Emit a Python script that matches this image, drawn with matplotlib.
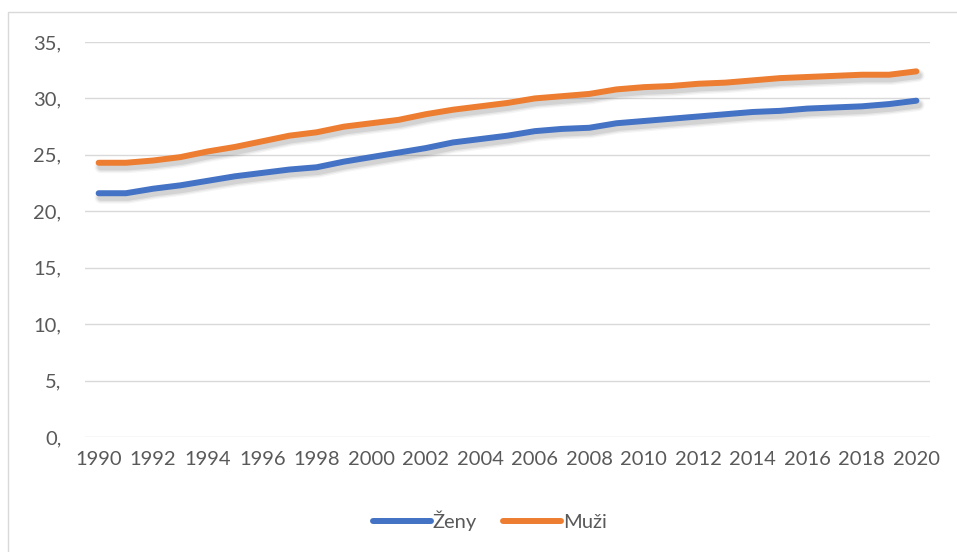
import matplotlib
matplotlib.use("Agg")
import matplotlib.pyplot as plt
import matplotlib.patheffects as pe
from matplotlib.patches import Rectangle

years = list(range(1990, 2021))
zeny = [21.6, 21.6, 22.0, 22.3, 22.7, 23.1, 23.4, 23.7, 23.9, 24.4,
        24.8, 25.2, 25.6, 26.1, 26.4, 26.7, 27.1, 27.3, 27.4, 27.8,
        28.0, 28.2, 28.4, 28.6, 28.8, 28.9, 29.1, 29.2, 29.3, 29.5, 29.8]
muzi = [24.3, 24.3, 24.5, 24.8, 25.3, 25.7, 26.2, 26.7, 27.0, 27.5,
        27.8, 28.1, 28.6, 29.0, 29.3, 29.6, 30.0, 30.2, 30.4, 30.8,
        31.0, 31.1, 31.3, 31.4, 31.6, 31.8, 31.9, 32.0, 32.1, 32.1, 32.4]
y_ticks = [0, 5, 10, 15, 20, 25, 30, 35]
x_ticks = list(range(1990, 2021, 2))

plt.rcParams['font.family'] = ['Lato', 'DejaVu Sans']
txt = '#595959'
grid = '#d9d9d9'

fig = plt.figure(figsize=(9.57, 5.52), dpi=100)
# chart frame: only left and top edges are inside the picture
fig.patches.append(Rectangle((8 / 957, -10 / 552), 960 / 957, 550 / 552,
                             transform=fig.transFigure, fill=False,
                             edgecolor='#d9d9d9', linewidth=1))
ax = fig.add_axes([85 / 957, 115 / 552, 845 / 957, 395 / 552])

# soft drop shadow like Excel
shadow = [pe.Stroke(offset=(1.5, -3), linewidth=9, foreground='black', alpha=0.04),
          pe.Stroke(offset=(1.5, -3), linewidth=7, foreground='black', alpha=0.06),
          pe.Stroke(offset=(1.5, -3), linewidth=5, foreground='black', alpha=0.08),
          pe.Normal()]
ax.plot(years, zeny, color='#4472c4', lw=4.3, solid_capstyle='round',
        label='Ženy', path_effects=shadow, zorder=3)
ax.plot(years, muzi, color='#ed7d31', lw=4.3, solid_capstyle='round',
        label='Muži', path_effects=shadow, zorder=3)

ax.set_xlim(1989.5, 2020.5)
ax.set_ylim(0, 35)
ax.set_yticks(y_ticks)
ax.set_yticklabels([f"{v}," for v in y_ticks])
ax.set_xticks(x_ticks)
ax.set_xticklabels([str(v) for v in x_ticks])
ax.grid(axis='y', color=grid, lw=1)
ax.set_axisbelow(True)
for s in ax.spines.values():
    s.set_visible(False)
ax.tick_params(length=0, colors=txt, labelsize=14.5)
ax.tick_params(axis='y', pad=17)
ax.tick_params(axis='x', pad=10)

leg = fig.legend(loc='center', bbox_to_anchor=(490 / 957, 1 - 521 / 552), ncol=2,
                 frameon=False, fontsize=14.5, handlelength=2.85, handletextpad=0.1,
                 columnspacing=1.3)
for t in leg.get_texts():
    t.set_color(txt)
for h in leg.legend_handles:
    h.set_path_effects([])

fig.savefig('out.png', dpi=100)
